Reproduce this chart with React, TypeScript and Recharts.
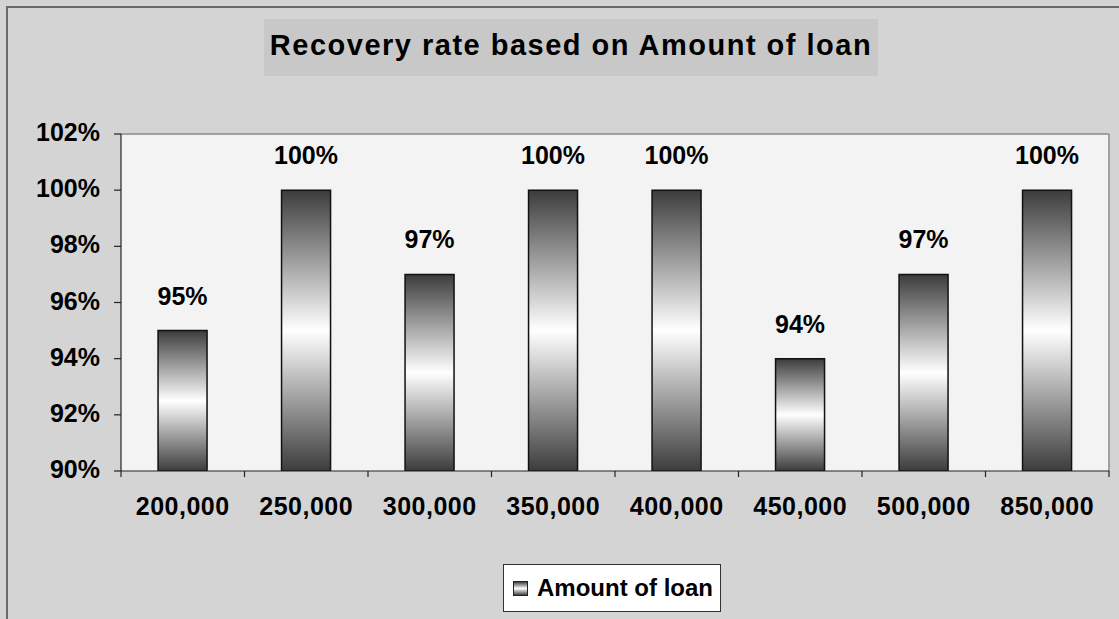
import { BarChart, Bar, XAxis, YAxis, CartesianGrid, Legend, LabelList } from 'recharts';

const categories = ['200,000', '250,000', '300,000', '350,000', '400,000', '450,000', '500,000', '850,000'];
const recoveryRate = [95, 100, 97, 100, 100, 94, 97, 100];
const yTicks = [90, 92, 94, 96, 98, 100, 102];

const chartData = categories.map((amount, i) => ({ amount, rate: recoveryRate[i] }));

const FONT = '"Liberation Sans", Arial, sans-serif';

function XTick(props: any) {
  const { x, y, payload, index } = props;
  const half = payload?.offset ?? 61.75;
  const axisY = y - 8;
  return (
    <g>
      <line x1={x - half} x2={x - half} y1={axisY} y2={axisY + 6} stroke="#222" strokeWidth={1.2} />
      {index === categories.length - 1 && (
        <line x1={x + half} x2={x + half} y1={axisY} y2={axisY + 6} stroke="#222" strokeWidth={1.2} />
      )}
      <text
        x={x}
        y={axisY + 44}
        textAnchor="middle"
        fontFamily={FONT}
        fontWeight="bold"
        fontSize={25}
        letterSpacing={0.5}
        fill="#000"
      >
        {payload.value}
      </text>
    </g>
  );
}

function YTick(props: any) {
  const { y, payload } = props;
  return (
    <text x={100} y={y + 7} textAnchor="end" fontFamily={FONT} fontWeight="bold" fontSize={25} fill="#000">
      {payload.value}%
    </text>
  );
}

function BarLabel(props: any) {
  const { x, y, width, value } = props;
  return (
    <text
      x={x + width / 2}
      y={y - 26}
      textAnchor="middle"
      fontFamily={FONT}
      fontWeight="bold"
      fontSize={25}
      fill="#000"
    >
      {value}%
    </text>
  );
}

function LegendBox() {
  return (
    <div
      style={{
        width: 218,
        height: 48,
        background: '#fff',
        border: '1.5px solid #333',
        display: 'flex',
        alignItems: 'center',
        boxSizing: 'border-box',
        paddingLeft: 9,
        fontFamily: FONT,
        fontWeight: 'bold',
        fontSize: 24,
        color: '#000',
      }}
    >
      <div
        style={{
          width: 13,
          height: 13,
          border: '1.5px solid #222',
          background: 'linear-gradient(to bottom, #404040, #ffffff, #404040)',
          marginRight: 9,
        }}
      />
      <span>Amount of loan</span>
    </div>
  );
}

export default function App() {
  return (
    <div
      style={{
        position: 'absolute',
        left: 0,
        top: 0,
        width: 1119,
        height: 619,
        background: '#d4d4d4',
        overflow: 'hidden',
      }}
    >
      <div
        style={{
          position: 'absolute',
          left: 6,
          top: 6,
          width: 1300,
          height: 800,
          borderLeft: '2px solid #6a6a6a',
          borderTop: '2px solid #6a6a6a',
        }}
      />
      <div
        style={{
          position: 'absolute',
          left: 264,
          top: 19,
          width: 614,
          height: 57,
          background: '#c8c8c8',
          display: 'flex',
          alignItems: 'center',
          justifyContent: 'center',
          fontFamily: FONT,
          fontWeight: 'bold',
          fontSize: 29,
          letterSpacing: 1.5,
          color: '#000',
          paddingBottom: 4,
          boxSizing: 'border-box',
        }}
      >
        Recovery rate based on Amount of loan
      </div>
      <div style={{ position: 'absolute', left: 0, top: 0 }}>
        <BarChart
          width={1119}
          height={619}
          data={chartData}
          margin={{ top: 134, right: 10, left: 0, bottom: 0 }}
          barCategoryGap="30%"
        >
          <defs>
            <linearGradient id="barGrad" x1="0" y1="0" x2="0" y2="1">
              <stop offset="0%" stopColor="#3c3c3c" />
              <stop offset="50%" stopColor="#ffffff" />
              <stop offset="100%" stopColor="#3c3c3c" />
            </linearGradient>
          </defs>
          <CartesianGrid
            fill="#f3f3f3"
            stroke="#8a8a8a"
            strokeWidth={1.5}
            horizontalCoordinatesGenerator={(p: any) => [p.offset.top]}
            verticalCoordinatesGenerator={(p: any) => [p.offset.left + p.offset.width]}
          />
          <XAxis
            dataKey="amount"
            height={148}
            interval={0}
            tickLine={false}
            axisLine={{ stroke: '#222', strokeWidth: 1.2 }}
            tick={<XTick />}
          />
          <YAxis
            width={121}
            domain={[90, 102]}
            ticks={yTicks}
            allowDataOverflow
            tickSize={7}
            axisLine={{ stroke: '#222', strokeWidth: 1.2 }}
            tickLine={{ stroke: '#222', strokeWidth: 1.2 }}
            tick={<YTick />}
          />
          <Legend
            verticalAlign="middle"
            align="center"
            layout="horizontal"
            wrapperStyle={{ top: 564, left: 503, width: 220 }}
            content={() => <LegendBox />}
          />
          <Bar
            dataKey="rate"
            name="Amount of loan"
            fill="url(#barGrad)"
            stroke="#111"
            strokeWidth={1.5}
            isAnimationActive={false}
          >
            <LabelList dataKey="rate" content={<BarLabel />} />
          </Bar>
        </BarChart>
      </div>
    </div>
  );
}
